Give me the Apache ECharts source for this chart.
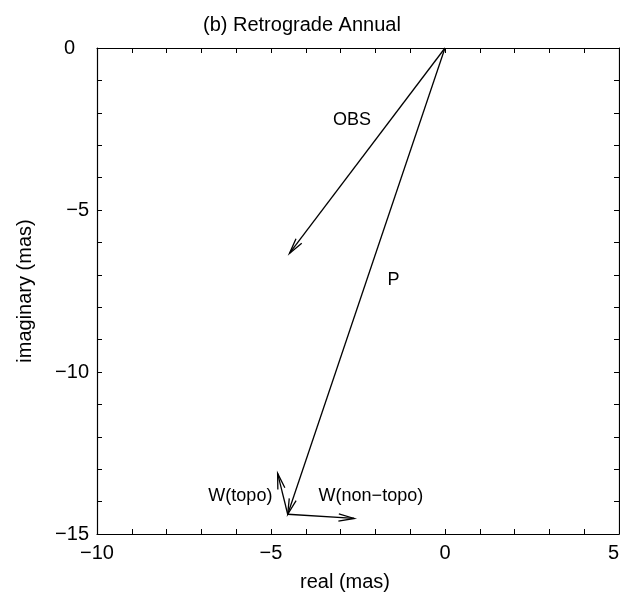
<!DOCTYPE html>
<html>
<head>
<meta charset="utf-8">
<script src="https://cdn.jsdelivr.net/npm/echarts@6/dist/echarts.min.js"></script>
<style>
html,body{margin:0;padding:0;background:#fff;}
#chart{width:620px;height:604px;}
</style>
</head>
<body>
<div id="chart"></div>
<script>
// Vector data (real, imaginary in mas)
const vectorNames = ['OBS', 'P', 'W(topo)', 'W(non-topo)'];
const startX = [0, 0, -4.52, -4.52];
const startY = [0, 0, -14.39, -14.39];
const endX = [-4.47, -4.52, -4.81, -2.61];
const endY = [-6.34, -14.39, -13.13, -14.52];

// Annotation labels
const labelText = ['OBS', 'P', 'W(topo)', 'W(non\u2212topo)'];
const labelX = [-2.67, -1.48, -5.88, -2.13];
const labelY = [-2.22, -7.16, -13.84, -13.83];

// Axis settings
const xMin = -10, xMax = 5, xStep = 5;
const yMin = -15, yMax = 0, yStep = 5;

const FONT = 'Liberation Sans, Arial, Helvetica, sans-serif';
const fmt = v => String(v).replace('-', '\u2212');
const fmtY = v => (v === 0 ? '{z|0}' : String(v).replace('-', '\u2212'));

const vecData = vectorNames.map((n, i) => [startX[i], startY[i], endX[i], endY[i]]);
const lblData = labelText.map((t, i) => [labelX[i], labelY[i], i]);

function axisCommon() {
  return {
    axisLine: { show: true, onZero: false, lineStyle: { color: '#000', width: 1.2 } },
    axisTick: { show: true, inside: true, length: 5, lineStyle: { color: '#000', width: 1 } },
    minorTick: { show: true, splitNumber: 5, length: 5, lineStyle: { color: '#000', width: 1 } },
    splitLine: { show: false },
  };
}

const chart = echarts.init(document.getElementById('chart'), null, { renderer: 'canvas' });
chart.setOption({
  backgroundColor: '#fff',
  animation: false,
  title: {
    text: '(b) Retrograde Annual',
    left: 198, top: 10,
    textStyle: { fontFamily: FONT, fontSize: 20, fontWeight: 'normal', color: '#000' }
  },
  grid: { left: 97, right: 1, top: 48, bottom: 70, containLabel: false, outerBoundsMode: 'none' },
  xAxis: [
    Object.assign({
      type: 'value', min: xMin, max: xMax, interval: xStep, position: 'bottom',
      name: 'real (mas)', nameLocation: 'middle', nameGap: 38,
      nameTextStyle: { fontFamily: FONT, fontSize: 20, color: '#000', padding: [0, 26, 0, 0] },
      axisLabel: { formatter: fmt, fontFamily: FONT, fontSize: 20, color: '#000', margin: 9,
                   hideOverlap: false, alignMaxLabel: 'right' },
    }, axisCommon()),
    Object.assign({
      type: 'value', min: xMin, max: xMax, interval: xStep, position: 'top',
      axisLabel: { show: false },
    }, axisCommon())
  ],
  yAxis: [
    Object.assign({
      type: 'value', min: yMin, max: yMax, interval: yStep, position: 'left',
      name: 'imaginary (mas)', nameLocation: 'middle', nameGap: 62,
      nameTextStyle: { fontFamily: FONT, fontSize: 20, color: '#000' },
      axisLabel: { formatter: fmtY, fontFamily: FONT, fontSize: 20, color: '#000', margin: 8, hideOverlap: false,
                   rich: { z: { fontFamily: FONT, fontSize: 20, color: '#000', padding: [0, 14, 0, 0] } } },
    }, axisCommon()),
    Object.assign({
      type: 'value', min: yMin, max: yMax, interval: yStep, position: 'right',
      axisLabel: { show: false },
    }, axisCommon())
  ],
  series: [
    {
      type: 'custom',
      xAxisIndex: 0, yAxisIndex: 0,
      data: vecData,
      clip: false,
      renderItem: function (params, api) {
        const p1 = api.coord([api.value(0), api.value(1)]);
        const p2 = api.coord([api.value(2), api.value(3)]);
        const ang = Math.atan2(p2[1] - p1[1], p2[0] - p1[0]);
        const hl = 16, ha = 13 * Math.PI / 180;
        const b1 = [p2[0] - hl * Math.cos(ang - ha), p2[1] - hl * Math.sin(ang - ha)];
        const b2 = [p2[0] - hl * Math.cos(ang + ha), p2[1] - hl * Math.sin(ang + ha)];
        const style = { stroke: '#000', lineWidth: 1.3, fill: null };
        return {
          type: 'group',
          children: [
            { type: 'line', shape: { x1: p1[0], y1: p1[1], x2: p2[0], y2: p2[1] }, style: style },
            { type: 'polyline', shape: { points: [b1, p2, b2] }, style: style }
          ]
        };
      }
    },
    {
      type: 'custom',
      xAxisIndex: 0, yAxisIndex: 0,
      data: lblData,
      clip: false,
      renderItem: function (params, api) {
        const p = api.coord([api.value(0), api.value(1)]);
        return {
          type: 'text',
          x: p[0], y: p[1],
          style: {
            text: labelText[api.value(2)],
            fill: '#000',
            font: '18px ' + FONT,
            align: 'center',
            verticalAlign: 'middle'
          }
        };
      }
    }
  ]
});
</script>
</body>
</html>
